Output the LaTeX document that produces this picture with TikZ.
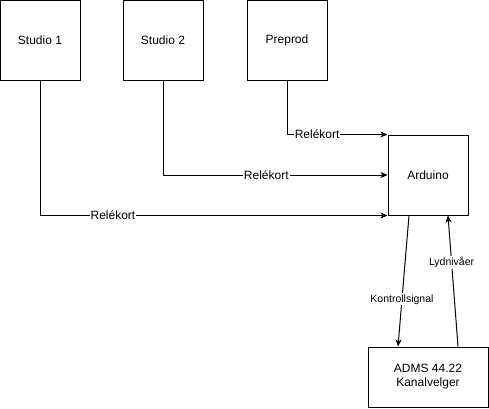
\documentclass[tikz,border=0pt]{standalone}
\usepackage{fontspec}
\setmainfont{Liberation Sans}
\usetikzlibrary{arrows.meta}

\begin{document}
\begin{tikzpicture}[
		x=1pt, y=-1pt,
		line width=1pt,
		every node/.style={font=\fontsize{12}{14}\selectfont},
		box/.style={rectangle,draw,minimum width=80pt,minimum height=80pt,inner sep=0pt},
		wide/.style={rectangle,draw,minimum width=120pt,minimum height=60pt,inner sep=0pt,align=center},
		link/.style={-{Stealth[length=7pt,width=6pt,inset=2pt]}},
		lbl/.style={fill=white,inner sep=1pt},
		small/.style={fill=white,inner sep=1pt,font=\fontsize{10.5}{12}\selectfont}
	]
	\useasboundingbox (0,0) rectangle (489,408);

	\node[box] (studio1) at (40,40) {Studio 1};
	\node[box] (studio2) at (163,40) {Studio 2};
	\node[box] (preprod) at (287,40) {Preprod};
	\node[box] (arduino) at (428,175) {Arduino};
	\node[wide] (adms) at (428,377) {ADMS 44.22\\Kanalvelger};

	\draw[link] (preprod.south) |- node[lbl,pos=0.65] {Relékort} (arduino.north west);
	\draw[link] (studio2.south) |- node[lbl,pos=0.73] {Relékort} (arduino.west);
	\draw[link] (studio1.south) |- node[lbl,pos=0.605] {Relékort} (arduino.south west);

	\draw[link] ([xshift=-19pt]arduino.south) -- node[small,pos=0.64] {Kontrollsignal} ([xshift=-30pt]adms.north);
	\draw[link] ([xshift=30pt]adms.north) -- node[small,pos=0.64] {Lydnivåer} ([xshift=20pt]arduino.south);
\end{tikzpicture}
\end{document}
